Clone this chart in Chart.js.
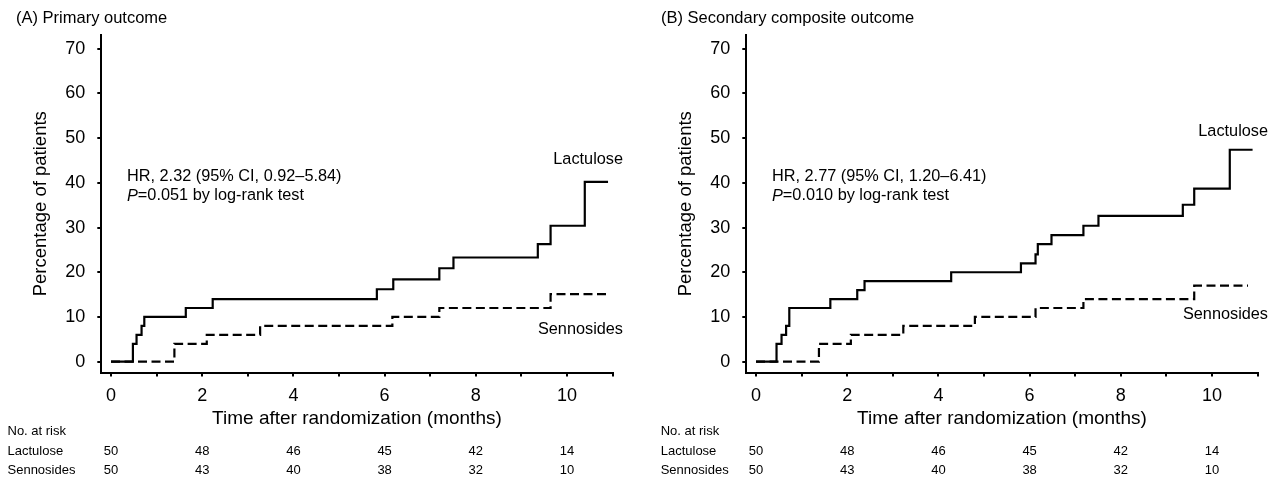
<!DOCTYPE html>
<html>
<head>
<meta charset="utf-8">
<script src="https://cdn.jsdelivr.net/npm/chart.js@4/dist/chart.umd.min.js"></script>
<style>
    body { margin: 0; background: #fff; width: 1275px; height: 481px; overflow: hidden; position: relative; }
    canvas { position: absolute; top: 0; }
    #graficoA { left: 0; }
    #graficoB { left: 645px; }
</style>
</head>
<body>
<canvas id="graficoA" width="630" height="481"></canvas>
<canvas id="graficoB" width="630" height="481"></canvas>
<script>
// (A) Primary outcome - tempo (meses) e % acumulada
var mesesLactuloseA = [0, 0.48, 0.56, 0.67, 0.73, 1.64, 2.23, 5.83, 6.19, 7.2, 7.51, 9.36, 9.64, 10.39, 10.9];
var pctLactuloseA   = [0, 4, 6, 8, 10, 12, 14, 16.2, 18.4, 20.9, 23.3, 26.3, 30.4, 40.2, 40.2];
var mesesSennosidesA = [0, 1.39, 2.1, 3.27, 6.17, 7.2, 9.64, 10.89];
var pctSennosidesA   = [0, 4, 6, 8, 10, 12, 15.1, 15.1];

// (B) Secondary composite outcome
var mesesLactuloseB = [0, 0.45, 0.56, 0.66, 0.73, 1.63, 2.22, 2.38, 4.28, 5.81, 6.13, 6.18, 6.48, 7.18, 7.51, 9.36, 9.61, 10.39, 10.89];
var pctLactuloseB   = [0, 4, 6, 8, 12, 14, 16, 18, 20, 22, 24, 26.3, 28.3, 30.4, 32.6, 35.1, 38.7, 47.4, 47.4];
var mesesSennosidesB = [0, 1.38, 2.08, 3.23, 4.8, 6.13, 7.18, 9.61, 10.79];
var pctSennosidesB   = [0, 4, 6, 8, 10, 12, 14, 17, 17];

// eixos
var ticksMeses = [0, 1, 2, 3, 4, 5, 6, 7, 8, 9, 10, 11];
var ticksPct = [0, 10, 20, 30, 40, 50, 60, 70];

// No. at risk
var mesesRisco = [0, 2, 4, 6, 8, 10];
var riscoLactuloseA = [50, 48, 46, 45, 42, 14];
var riscoSennosidesA = [50, 43, 40, 38, 32, 10];
var riscoLactuloseB = [50, 48, 46, 45, 42, 14];
var riscoSennosidesB = [50, 43, 40, 38, 32, 10];

var FONTE = '"Liberation Sans", Arial, sans-serif';
Chart.defaults.font.family = FONTE;
Chart.defaults.color = '#000';

function pontos(meses, valores){
    return meses.map(function(m, i){ return {x: m, y: valores[i]}; });
}

function GraficoKM(idCanvas, cfg){
    this.ctx = document.getElementById(idCanvas).getContext('2d');
    this.cfg = cfg;
}

GraficoKM.prototype.iniciar = function(){
    var cfg = this.cfg;

    var textos = {
        id: 'textos',
        afterDraw: function(chart){
            var ctx = chart.ctx;
            var x = chart.scales.x;
            ctx.save();
            ctx.fillStyle = '#000';
            ctx.textBaseline = 'middle';

            ctx.font = '16.5px ' + FONTE;
            ctx.textAlign = 'left';
            ctx.fillText(cfg.titulo, 16, 18);
            ctx.font = '16.3px ' + FONTE;
            ctx.fillText(cfg.hr, 127, 177);
            ctx.font = 'italic 16.3px ' + FONTE;
            ctx.fillText('P', 127, 196);
            var w = ctx.measureText('P').width;
            ctx.font = '16.3px ' + FONTE;
            ctx.fillText(cfg.p, 127 + w, 196);

            ctx.textAlign = 'right';
            ctx.fillText('Lactulose', 623, cfg.lactuloseY);
            ctx.fillText('Sennosides', 623, cfg.sennosidesY);

            ctx.font = '13px ' + FONTE;
            ctx.textAlign = 'left';
            ctx.fillText('No. at risk', cfg.riscoX, 431);
            ctx.fillText('Lactulose', cfg.riscoX, 451);
            ctx.fillText('Sennosides', cfg.riscoX, 470.5);
            ctx.textAlign = 'center';
            mesesRisco.forEach(function(m, i){
                var px = x.getPixelForValue(m);
                ctx.fillText(String(cfg.riscoLac[i]), px, 451);
                ctx.fillText(String(cfg.riscoSen[i]), px, 470.5);
            });
            ctx.restore();
        }
    };

    new Chart(this.ctx, {
        type: 'line',
        data: {
            datasets: [{
                label: 'Sennosides',
                data: pontos(cfg.mesesSen, cfg.pctSen),
                borderColor: '#000',
                borderWidth: 2.2,
                borderDash: [9, 4.5],
                stepped: 'before',
                pointRadius: 0,
                fill: false
            }, {
                label: 'Lactulose',
                data: pontos(cfg.mesesLac, cfg.pctLac),
                borderColor: '#000',
                borderWidth: 2.2,
                stepped: 'before',
                pointRadius: 0,
                fill: false
            }]
        },
        options: {
            responsive: false,
            animation: false,
            devicePixelRatio: 1,
            layout: { padding: { left: 0, top: 35, right: 17.4, bottom: 0 } },
            plugins: { legend: { display: false }, tooltip: { enabled: false } },
            scales: {
                x: {
                    type: 'linear',
                    min: -0.213,
                    max: 11,
                    afterBuildTicks: function(s){ s.ticks = ticksMeses.map(function(v){ return {value: v}; }); },
                    afterFit: function(s){ s.height = 108.5; },
                    grid: { drawOnChartArea: false, drawTicks: true, tickLength: 4, lineWidth: 2, color: '#000' },
                    border: { display: true, width: 2, color: '#000' },
                    ticks: {
                        autoSkip: false, maxRotation: 0, padding: 9,
                        font: { size: 18 },
                        callback: function(v){ return v % 2 === 0 ? v : ''; }
                    },
                    title: { display: true, text: 'Time after randomization (months)', font: { size: 19 }, padding: { top: 0, bottom: 51.3 } }
                },
                y: {
                    type: 'linear',
                    min: -2.42,
                    max: 73.06,
                    afterBuildTicks: function(s){ s.ticks = ticksPct.map(function(v){ return {value: v}; }); },
                    afterFit: function(s){ s.width = 101.3; },
                    grid: { drawOnChartArea: false, drawTicks: true, tickLength: 4, lineWidth: 2, color: '#000' },
                    border: { display: true, width: 2, color: '#000' },
                    ticks: { padding: 12, font: { size: 18 } },
                    title: { display: true, text: 'Percentage of patients', font: { size: 18.5 }, padding: { top: 30, bottom: 0 } }
                }
            }
        },
        plugins: [textos]
    });
};

var graficoA = new GraficoKM('graficoA', {
    titulo: '(A) Primary outcome',
    hr: 'HR, 2.32 (95% CI, 0.92\u20135.84)',
    p: '=0.051 by log-rank test',
    mesesLac: mesesLactuloseA, pctLac: pctLactuloseA,
    mesesSen: mesesSennosidesA, pctSen: pctSennosidesA,
    riscoLac: riscoLactuloseA, riscoSen: riscoSennosidesA,
    lactuloseY: 160, sennosidesY: 330, riscoX: 7.5
});
graficoA.iniciar();

var graficoB = new GraficoKM('graficoB', {
    titulo: '(B) Secondary composite outcome',
    hr: 'HR, 2.77 (95% CI, 1.20\u20136.41)',
    p: '=0.010 by log-rank test',
    mesesLac: mesesLactuloseB, pctLac: pctLactuloseB,
    mesesSen: mesesSennosidesB, pctSen: pctSennosidesB,
    riscoLac: riscoLactuloseB, riscoSen: riscoSennosidesB,
    lactuloseY: 132, sennosidesY: 315, riscoX: 15.7
});
graficoB.iniciar();
</script>
</body>
</html>
